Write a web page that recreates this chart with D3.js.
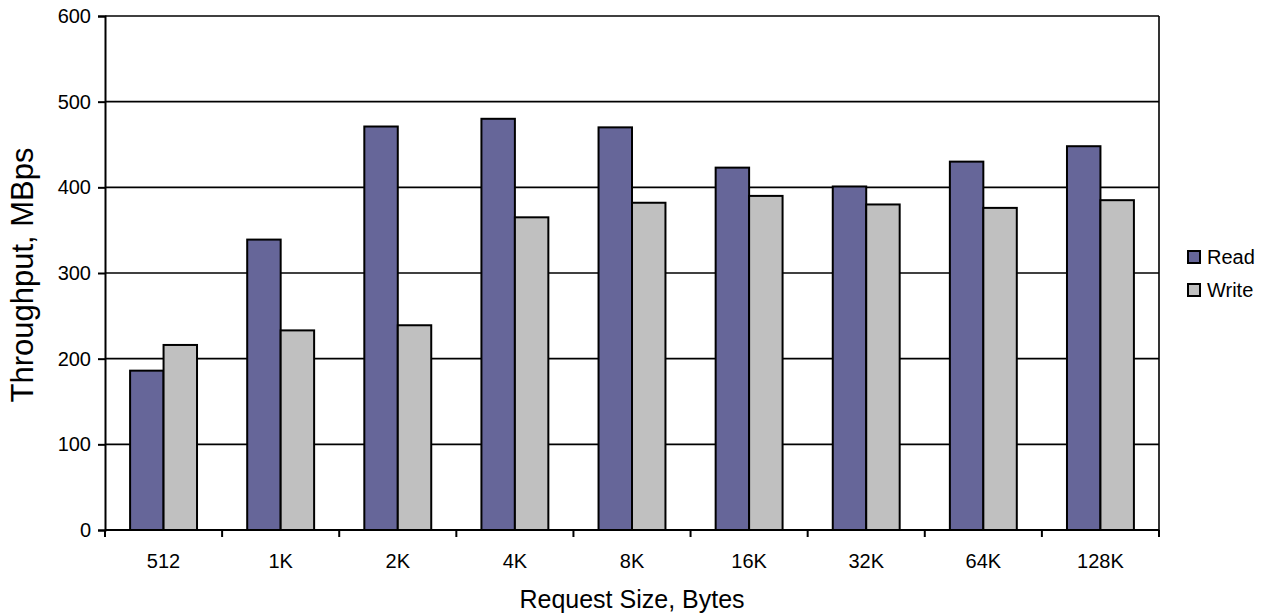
<!DOCTYPE html>
<html>
<head>
<meta charset="utf-8">
<script src="https://cdn.jsdelivr.net/npm/d3@7"></script>
<style>
  html, body { margin: 0; padding: 0; background: #fff; }
  svg { display: block; font-family: "Liberation Sans", Arial, sans-serif; }
</style>
</head>
<body>
<svg id="chart" width="1271" height="616"></svg>
<script>
// Throughput by request size
const categories = ["512", "1K", "2K", "4K", "8K", "16K", "32K", "64K", "128K"];
const readValues = [186, 339, 471, 480, 470, 423, 401, 430, 448];
const writeValues = [216, 233, 239, 365, 382, 390, 380, 376, 385];
const seriesNames = ["Read", "Write"];
const seriesColors = ["#666699", "#C0C0C0"];
const yTicks = [0, 100, 200, 300, 400, 500, 600];

const svg = d3.select("#chart");
const margin = { left: 105, right: 1271 - 1159, top: 16, bottom: 616 - 530 };
const width = 1271 - margin.left - margin.right;
const height = 616 - margin.top - margin.bottom;

const g = svg.append("g").attr("transform", `translate(${margin.left},${margin.top})`);

const x0 = d3.scaleBand().domain(categories).range([0, width]).paddingInner(0).paddingOuter(0);
// Bars occupy 2 of 3.5 units per category (gap width 150%)
const x1 = d3.scaleBand().domain(seriesNames).range([x0.bandwidth() * 0.75 / 3.5, x0.bandwidth() * (1 - 0.75 / 3.5)]);
const y = d3.scaleLinear().domain([0, 600]).range([height, 0]);

// Horizontal gridlines
g.append("g")
  .selectAll("line")
  .data(yTicks.filter(d => d > 0))
  .join("line")
  .attr("x1", 0).attr("x2", width)
  .attr("y1", d => y(d)).attr("y2", d => y(d))
  .attr("stroke", "#000").attr("stroke-width", 1.6);

// Right border of the plot area
g.append("line")
  .attr("x1", width).attr("x2", width)
  .attr("y1", 0).attr("y2", height)
  .attr("stroke", "#000").attr("stroke-width", 1.6);

// Bars
const rows = categories.map((c, i) => ({ cat: c, vals: [readValues[i], writeValues[i]] }));
const groups = g.append("g").selectAll("g")
  .data(rows)
  .join("g")
  .attr("transform", d => `translate(${x0(d.cat)},0)`);

groups.selectAll("rect")
  .data(d => d.vals.map((v, k) => ({ name: seriesNames[k], value: v, color: seriesColors[k] })))
  .join("rect")
  .attr("x", d => x1(d.name))
  .attr("width", x1.bandwidth())
  .attr("y", d => y(d.value))
  .attr("height", d => y(0) - y(d.value))
  .attr("fill", d => d.color)
  .attr("stroke", "#000")
  .attr("stroke-width", 2);

// Y axis
const yAxis = g.append("g")
  .call(d3.axisLeft(y).tickValues(yTicks).tickSize(7).tickPadding(7).tickFormat(d3.format("d")));
yAxis.select(".domain").attr("stroke-width", 2);
yAxis.selectAll(".tick line").attr("stroke-width", 2);
yAxis.selectAll("text").attr("font-size", 20).attr("fill", "#000");

// X axis: ticks at category boundaries, labels centered on categories
const xAxisG = g.append("g").attr("transform", `translate(0,${height})`);
xAxisG.append("line")
  .attr("x1", 0).attr("x2", width)
  .attr("stroke", "#000").attr("stroke-width", 2.2);
const boundaries = categories.map(c => x0(c)).concat([width]);
xAxisG.selectAll("line.tk")
  .data(boundaries)
  .join("line")
  .attr("class", "tk")
  .attr("x1", d => d).attr("x2", d => d)
  .attr("y1", 0).attr("y2", 7)
  .attr("stroke", "#000").attr("stroke-width", 2);
xAxisG.selectAll("text")
  .data(categories)
  .join("text")
  .attr("x", d => x0(d) + x0.bandwidth() / 2)
  .attr("y", 38)
  .attr("text-anchor", "middle")
  .attr("font-size", 20)
  .text(d => d);

// Axis titles
svg.append("text")
  .attr("x", margin.left + width / 2)
  .attr("y", 608)
  .attr("text-anchor", "middle")
  .attr("font-size", 25)
  .text("Request Size, Bytes");

svg.append("text")
  .attr("transform", `translate(33,${margin.top + height / 2 + 2}) rotate(-90)`)
  .attr("text-anchor", "middle")
  .attr("font-size", 31)
  .text("Throughput, MBps");

// Legend
const legend = svg.append("g").attr("transform", "translate(1188,0)");
seriesNames.forEach((name, k) => {
  const base = 264 + k * 33;
  legend.append("rect")
    .attr("x", 0).attr("y", base - 13)
    .attr("width", 12).attr("height", 12)
    .attr("fill", seriesColors[k])
    .attr("stroke", "#000").attr("stroke-width", 2);
  legend.append("text")
    .attr("x", 19).attr("y", base)
    .attr("font-size", 20)
    .text(name);
});
</script>
</body>
</html>
